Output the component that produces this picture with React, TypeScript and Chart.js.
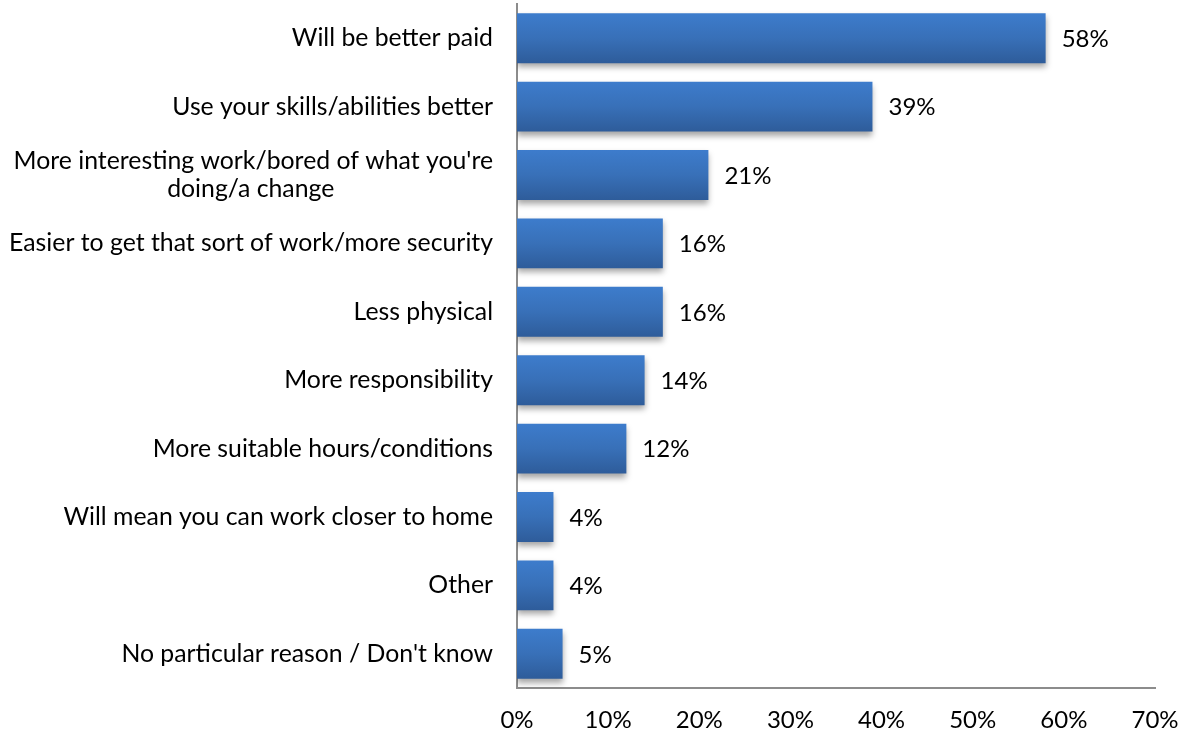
import React, { useEffect, useRef } from "react";
import { Chart, registerables } from "chart.js";

Chart.register(...registerables);

const categories: (string | string[])[] = [
  "Will be better paid",
  "Use your skills/abilities better",
  ["More interesting work/bored of what you're", "doing/a change"],
  "Easier to get that sort of work/more security",
  "Less physical",
  "More responsibility",
  "More suitable hours/conditions",
  "Will mean you can work closer to home",
  "Other",
  "No particular reason / Don't know",
];
const values = [58, 39, 21, 16, 16, 14, 12, 4, 4, 5];
const xTicks = [0, 10, 20, 30, 40, 50, 60, 70];

const FONT = "Lato, 'Open Sans', sans-serif";
const FS = 24;
const LABEL_FS = 24.8;
const BAR_PCT = 0.73;

// Center the lines of wrapped labels relative to each other (right-aligned block)
function centerLines(labels: (string | string[])[]): (string | string[])[] {
  const c = document.createElement("canvas").getContext("2d")!;
  c.font = `${LABEL_FS}px ${FONT}`;
  const sp = c.measureText("\u00A0").width || 6;
  return labels.map((l) => {
    if (!Array.isArray(l)) return l;
    const widths = l.map((s) => c.measureText(s).width);
    const maxW = Math.max(...widths);
    return l.map((s, i) => s + "\u00A0".repeat(Math.max(0, Math.round((maxW - widths[i]) / 2 / sp))));
  });
}

export default function App() {
  const ref = useRef<HTMLCanvasElement | null>(null);
  useEffect(() => {
    document.body.style.margin = "0";
    const canvas = ref.current!;
    const shadowPlugin = {
      id: "shadowPlugin",
      beforeDatasetsDraw(chart: any) {
        const c = chart.ctx;
        c.save();
        c.shadowColor = "rgba(0,0,0,0.35)";
        c.shadowBlur = 6;
        c.shadowOffsetX = 0;
        c.shadowOffsetY = 4;
      },
      afterDatasetsDraw(chart: any) {
        const c = chart.ctx;
        c.restore();
        const meta = chart.getDatasetMeta(0);
        c.save();
        c.fillStyle = "#000";
        c.font = `${FS}px ${FONT}`;
        c.textAlign = "left";
        c.textBaseline = "middle";
        meta.data.forEach((el: any, i: number) => {
          c.fillText(values[i] + "%", el.x + 16, el.y + 1);
        });
        c.restore();
      },
    };
    const chart = new Chart(canvas, {
      type: "bar",
      data: {
        labels: centerLines(categories),
        datasets: [
          {
            data: values,
            barPercentage: BAR_PCT,
            categoryPercentage: 1,
            backgroundColor: (ctx: any) => {
              const ch = ctx.chart;
              const ys = ch.scales?.y;
              if (!ys || ctx.dataIndex === undefined) return "#3a72bd";
              const cy = ys.getPixelForValue(ctx.dataIndex);
              const h = (ys.height / categories.length) * BAR_PCT;
              if (!isFinite(cy) || !isFinite(h) || h <= 0) return "#3a72bd";
              const g = ch.ctx.createLinearGradient(0, cy - h / 2, 0, cy + h / 2);
              g.addColorStop(0, "#3d7ccc");
              g.addColorStop(0.5, "#3870b8");
              g.addColorStop(1, "#2e5c9a");
              return g;
            },
            borderWidth: 0,
          },
        ],
      },
      options: {
        indexAxis: "y",
        animation: false,
        responsive: true,
        maintainAspectRatio: false,
        layout: { padding: { top: 4, right: 33, left: 0, bottom: 0 } },
        plugins: { legend: { display: false }, tooltip: { enabled: false } },
        scales: {
          x: {
            min: 0,
            max: 70,
            afterBuildTicks(axis: any) {
              axis.ticks = xTicks.map((v) => ({ value: v }));
            },
            grid: { display: false, drawTicks: false },
            border: { display: true, color: "#8c8c8c", width: 2 },
            ticks: {
              color: "#000",
              font: { family: FONT, size: FS },
              padding: 18,
              maxRotation: 0,
              callback: (v: any) => v + "%",
            },
            afterFit(axis: any) {
              axis.height = 47;
              axis.paddingLeft = 0;
              axis.paddingRight = 0;
            },
          },
          y: {
            grid: { display: false, drawTicks: false },
            border: { display: true, color: "#8c8c8c", width: 2 },
            ticks: {
              color: "#000",
              font: { family: FONT, size: LABEL_FS, lineHeight: 1.12 },
              padding: 24,
              autoSkip: false,
            },
            afterFit(axis: any) {
              axis.width = 517;
              axis.paddingTop = 0;
              axis.paddingBottom = 0;
            },
          },
        },
      },
      plugins: [shadowPlugin],
    });
    return () => chart.destroy();
  }, []);
  return (
    <div style={{ position: "fixed", left: 0, top: 0, width: 1188, height: 735 }}>
      <canvas ref={ref} />
    </div>
  );
}
